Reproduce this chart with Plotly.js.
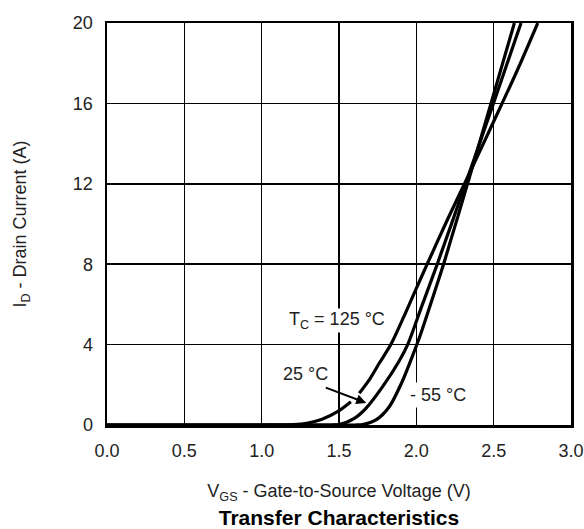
<!DOCTYPE html>
<html>
<head>
<meta charset="utf-8">
<script src="https://cdn.plot.ly/plotly-3.0.1.min.js"></script>
<style>html,body{margin:0;padding:0;background:#fff;}#chart{width:584px;height:529px;}</style>
</head>
<body>
<div id="chart"></div>
<script>
// Transfer characteristics: I_D vs V_GS at three case temperatures
const vgs125 = [0, 1.0, 1.2, 1.3, 1.39, 1.49, 1.577, 1.60, 1.631, 1.70, 1.76, 1.835, 1.92, 2.0, 2.07, 2.2, 2.33, 2.5, 2.65, 2.785];
const id125  = [0, 0, 0.02, 0.1, 0.28, 0.66, 1.16, null, 1.58, 2.3, 3.07, 4.0, 5.4, 6.8, 8.0, 10.2, 12.3, 15.1, 17.6, 20];

const vgs25 = [0, 1.45, 1.50, 1.599, 1.674, 1.782, 1.89, 1.944, 2.03, 2.135, 2.3, 2.494, 2.677];
const id25  = [0, 0, 0.02, 0.33, 0.83, 1.91, 3.2, 4.0, 5.8, 8.0, 11.6, 15.9, 20];

const vgsM55 = [0, 1.60, 1.652, 1.739, 1.825, 1.911, 1.976, 2.02, 2.1, 2.18, 2.35, 2.494, 2.634];
const idM55  = [0, 0, 0.02, 0.25, 0.91, 2.2, 3.45, 4.35, 6.2, 8.1, 12.5, 16.3, 20];

const xTicks = [0, 0.5, 1.0, 1.5, 2.0, 2.5, 3.0];
const xTickText = ['0.0', '0.5', '1.0', '1.5', '2.0', '2.5', '3.0'];
const yTicks = [0, 4, 8, 12, 16, 20];

const FONT = 'Liberation Sans, Arial, Helvetica, sans-serif';
const lineStyle = {color: '#000', width: 3.2, shape: 'spline', smoothing: 0.8};

const traces = [
  {x: vgs125, y: id125, mode: 'lines', line: lineStyle, name: '125 °C', connectgaps: false, hoverinfo: 'skip'},
  {x: vgs25, y: id25, mode: 'lines', line: lineStyle, name: '25 °C', hoverinfo: 'skip'},
  {x: vgsM55, y: idM55, mode: 'lines', line: lineStyle, name: '- 55 °C', hoverinfo: 'skip'}
];

const layout = {
  width: 584, height: 529,
  paper_bgcolor: '#fff', plot_bgcolor: '#fff',
  showlegend: false,
  margin: {l: 107, r: 13, t: 23, b: 104},
  font: {family: FONT, size: 18, color: '#222'},
  title: {
    text: '<b>Transfer Characteristics</b>',
    font: {family: FONT, size: 21, color: '#000'},
    xref: 'paper', x: 0.5, xanchor: 'center',
    yref: 'container', y: 0.022, yanchor: 'middle'
  },
  xaxis: {
    range: [0, 3], tickvals: xTicks, ticktext: xTickText,
    showgrid: true, gridcolor: '#000', gridwidth: 1.5,
    showline: true, linecolor: '#000', linewidth: 2.5, mirror: true,
    zeroline: false, ticks: '', ticklabelstandoff: 8,
    tickfont: {family: FONT, size: 18, color: '#222'},
    title: {text: 'V<sub>GS</sub> - Gate-to-Source Voltage (V)', font: {family: FONT, size: 18, color: '#222'}, standoff: 25}
  },
  yaxis: {
    range: [0, 20], tickvals: yTicks,
    showgrid: true, gridcolor: '#000', gridwidth: 1.5,
    showline: true, linecolor: '#000', linewidth: 2.5, mirror: true,
    zeroline: false, ticks: '', ticklabelstandoff: 8,
    tickfont: {family: FONT, size: 18, color: '#222'},
    title: {text: 'I<sub>D</sub> - Drain Current (A)', font: {family: FONT, size: 18, color: '#222'}, standoff: 42}
  },
  annotations: [
    {x: 1.489, y: 5.18, xref: 'x', yref: 'y', text: 'T<sub>C</sub> = 125 °C', showarrow: false,
     font: {family: FONT, size: 18, color: '#222'}, bgcolor: '#fff', borderpad: 0},
    {x: 1.282, y: 2.54, xref: 'x', yref: 'y', text: '25 °C', showarrow: false,
     font: {family: FONT, size: 18, color: '#222'}, bgcolor: '#fff', borderpad: 1},
    {x: 1.676, y: 1.10, xref: 'x', yref: 'y', ax: 1.405, ay: 1.89, axref: 'x', ayref: 'y',
     text: '', showarrow: true, arrowhead: 2, arrowsize: 1, arrowwidth: 2, arrowcolor: '#000', standoff: 0},
    {x: 2.139, y: 1.47, xref: 'x', yref: 'y', text: '- 55 °C', showarrow: false,
     font: {family: FONT, size: 18, color: '#222'}, bgcolor: '#fff', borderpad: 2}
  ]
};

Plotly.newPlot('chart', traces, layout, {staticPlot: true, displayModeBar: false});
</script>
</body>
</html>
